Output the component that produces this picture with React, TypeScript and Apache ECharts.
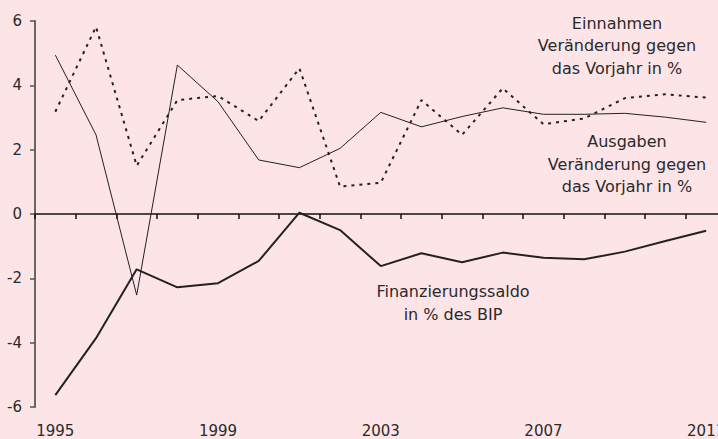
import React, { useEffect, useRef } from "react";
import * as echarts from "echarts";

const years = ["1995","1996","1997","1998","1999","2000","2001","2002","2003","2004","2005","2006","2007","2008","2009","2010","2011"];
const einnahmen = [3.18, 5.82, 1.5, 3.54, 3.67, 2.89, 4.53, 0.85, 0.97, 3.54, 2.46, 3.91, 2.79, 2.97, 3.6, 3.72, 3.62];
const ausgaben = [4.94, 2.46, -2.52, 4.63, 3.49, 1.68, 1.44, 2.04, 3.16, 2.71, 3.03, 3.3, 3.1, 3.1, 3.13, 3.01, 2.85];
const saldo = [-5.63, -3.86, -1.72, -2.28, -2.15, -1.46, 0.04, -0.5, -1.62, -1.22, -1.5, -1.2, -1.36, -1.41, -1.17, -0.84, -0.52];
const yTicks = [-6, -4, -2, 0, 2, 4, 6];

const FONT = "DejaVu Sans";
const TXT = "#2a2a2a";

export default function App() {
  const ref = useRef<HTMLDivElement>(null);
  useEffect(() => {
    if (!ref.current) return;
    const chart = echarts.init(ref.current, null, { renderer: "svg" });
    const text = (x: number, y: number, s: string) => ({
      type: "text",
      x,
      y,
      style: { text: s, fill: TXT, font: `16px ${FONT}`, textAlign: "center", textVerticalAlign: "middle", lineHeight: 22.5 },
    });
    chart.setOption({
      animation: false,
      backgroundColor: "#fde4e6",
      grid: { left: 35, top: 21, width: 691.5, height: 386, containLabel: false, outerBoundsMode: "none" },
      xAxis: [
        {
          type: "category",
          data: years,
          boundaryGap: true,
          axisLine: { onZero: true, lineStyle: { color: "#111", width: 1.5 } },
          axisTick: { show: true, length: 5, interval: 0, lineStyle: { color: "#111", width: 1.5 } },
          axisLabel: { show: false },
          splitLine: { show: false },
        },
        {
          type: "category",
          data: years,
          position: "bottom",
          boundaryGap: true,
          axisLine: { show: false, onZero: false },
          axisTick: { show: false },
          axisLabel: { interval: 3, margin: 16, fontSize: 15, fontFamily: FONT, color: TXT, hideOverlap: false },
          splitLine: { show: false },
        },
      ],
      yAxis: {
        type: "value",
        min: yTicks[0],
        max: yTicks[yTicks.length - 1],
        interval: 2,
        axisLine: { show: true, onZero: false, lineStyle: { color: "#666", width: 2 } },
        axisTick: { show: true, length: 5, lineStyle: { color: "#555", width: 1.5 } },
        axisLabel: { fontSize: 15, fontFamily: FONT, color: TXT, margin: 13 },
        splitLine: { show: false },
      },
      series: [
        {
          name: "Einnahmen",
          type: "line",
          data: einnahmen,
          symbol: "none",
          lineStyle: { color: "#222", width: 2, type: [3, 5] },
        },
        {
          name: "Ausgaben",
          type: "line",
          data: ausgaben,
          symbol: "none",
          lineStyle: { color: "#222", width: 1 },
        },
        {
          name: "Finanzierungssaldo",
          type: "line",
          data: saldo,
          symbol: "none",
          lineStyle: { color: "#222", width: 2 },
        },
      ],
      graphic: [
        text(617, 45.5, "Einnahmen\nVeränderung gegen\ndas Vorjahr in %"),
        text(627, 164, "Ausgaben\nVeränderung gegen\ndas Vorjahr in %"),
        text(453, 303, "Finanzierungssaldo\nin % des BIP"),
      ],
    });
    return () => chart.dispose();
  }, []);
  return <div ref={ref} style={{ width: 718, height: 439, position: "absolute", left: 0, top: 0 }} />;
}
